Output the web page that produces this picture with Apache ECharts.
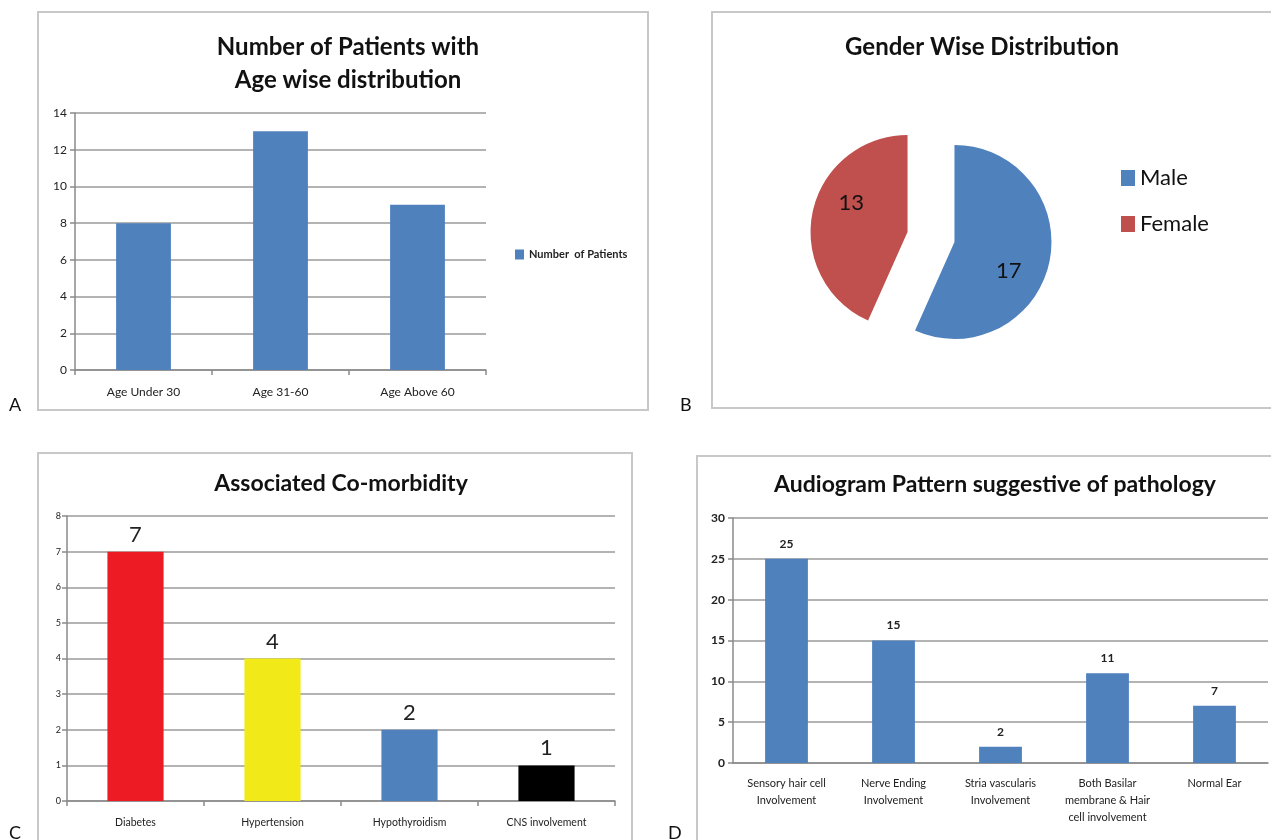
<!DOCTYPE html>
<html><head><meta charset="utf-8">
<script src="https://cdn.jsdelivr.net/npm/echarts@6/dist/echarts.min.js"></script>
<style>html,body{margin:0;padding:0;background:#fff}#c{width:1271px;height:840px}</style>
</head><body><div id="c"></div>
<script>
// Panel A
var ageCategories = ['Age Under 30', 'Age 31-60', 'Age Above 60'];
var ageValues = [8, 13, 9];
var ageTicks = [0, 14, 2];
// Panel B
var genderNames = ['Male', 'Female'];
var genderValues = [17, 13];
// Panel C
var comorbCategories = ['Diabetes', 'Hypertension', 'Hypothyroidism', 'CNS involvement'];
var comorbValues = [7, 4, 2, 1];
var comorbColors = ['#ED1C24', '#F2EA18', '#4F81BD', '#000000'];
var comorbTicks = [0, 8, 1];
// Panel D
var audioCategories = ['Sensory hair cell\nInvolvement', 'Nerve Ending\nInvolvement', 'Stria vascularis\nInvolvement', 'Both Basilar\nmembrane & Hair\ncell involvement', 'Normal Ear'];
var audioValues = [25, 15, 2, 11, 7];
var audioTicks = [0, 30, 5];

var F = 'Lato, "Open Sans", sans-serif';
var gridLine = {show: true, lineStyle: {color: '#9a9a9a', width: 1.5}};
var axisLine = {show: true, lineStyle: {color: '#8a8a8a', width: 1.5}};
var tick = {show: true, length: 5, lineStyle: {color: '#8a8a8a', width: 1.5}};

var chart = echarts.init(document.getElementById('c'), null, {renderer: 'canvas'});
function box(x, y, w, h) {
  return {type: 'rect', shape: {x: x, y: y, width: w, height: h}, style: {fill: 'none', stroke: '#c8c8c8', lineWidth: 2}, silent: true};
}
function letter(t, x, y) {
  return {type: 'text', x: x, y: y, style: {text: t, font: '18px ' + F, fill: '#111', textVerticalAlign: 'bottom'}, silent: true};
}
var pieLabelFmt = ['\n{c}', '{c}\n'];
var pieLabelPad = [[0, 0, 0, 8], [0, 12, 0, 0]];
chart.setOption({
  animation: false,
  textStyle: {fontFamily: F},
  graphic: [
    box(38, 12, 610, 398), box(712, 12, 570, 396), box(38, 453, 594, 400), box(697, 456, 590, 400),
    letter('A', 9, 414), letter('B', 680, 414), letter('C', 9, 842), letter('D', 668, 842)
  ],
  title: [
    {text: 'Number of Patients with\nAge wise distribution', left: 343, top: 26, textAlign: 'center',
      textStyle: {fontSize: 24, fontWeight: 'bold', color: '#111', lineHeight: 33, fontFamily: F}},
    {text: 'Gender Wise Distribution', left: 977, top: 30, textAlign: 'center',
      textStyle: {fontSize: 24, fontWeight: 'bold', color: '#111', fontFamily: F}},
    {text: 'Associated Co-morbidity', left: 336, top: 467, textAlign: 'center',
      textStyle: {fontSize: 23, fontWeight: 'bold', color: '#111', fontFamily: F}},
    {text: 'Audiogram Pattern suggestive of pathology', left: 990, top: 468, textAlign: 'center',
      textStyle: {fontSize: 23, fontWeight: 'bold', color: '#111', fontFamily: F}}
  ],
  legend: [
    {data: ['Number  of Patients'], left: 510, top: 244, icon: 'rect', itemWidth: 9, itemHeight: 10, itemGap: 4,
      textStyle: {fontSize: 11, fontWeight: 'bold', color: '#222', fontFamily: F}, selectedMode: false},
    {data: genderNames, orient: 'vertical', left: 1116, top: 162, icon: 'rect', itemWidth: 14, itemHeight: 16, itemGap: 24,
      textStyle: {fontSize: 22, color: '#111', fontFamily: F}, selectedMode: false}
  ],
  grid: [
    {left: 75, top: 113, width: 411, height: 257},
    {left: 67, top: 516, width: 548, height: 285},
    {left: 733, top: 518, width: 535, height: 245}
  ],
  xAxis: [
    {type: 'category', gridIndex: 0, data: ageCategories, axisLine: axisLine, axisTick: tick,
      axisLabel: {fontSize: 12, color: '#222', margin: 16, fontFamily: F}},
    {type: 'category', gridIndex: 1, data: comorbCategories, axisLine: axisLine, axisTick: tick,
      axisLabel: {fontSize: 10.5, color: '#222', margin: 16, fontFamily: F}},
    {type: 'category', gridIndex: 2, data: audioCategories, axisLine: axisLine, axisTick: {show: false},
      axisLabel: {fontSize: 11, color: '#222', margin: 12, lineHeight: 17, fontFamily: F, interval: 0}}
  ],
  yAxis: [
    {type: 'value', gridIndex: 0, min: ageTicks[0], max: ageTicks[1], interval: ageTicks[2], axisLine: axisLine, axisTick: tick,
      splitLine: gridLine, axisLabel: {fontSize: 12, color: '#222', margin: 8, fontFamily: F}},
    {type: 'value', gridIndex: 1, min: comorbTicks[0], max: comorbTicks[1], interval: comorbTicks[2], axisLine: axisLine, axisTick: tick,
      splitLine: gridLine, axisLabel: {fontSize: 9, color: '#222', margin: 6, fontFamily: F}},
    {type: 'value', gridIndex: 2, min: audioTicks[0], max: audioTicks[1], interval: audioTicks[2], axisLine: axisLine, axisTick: tick,
      splitLine: gridLine, axisLabel: {fontSize: 12, fontWeight: 'bold', color: '#222', margin: 8, fontFamily: F}}
  ],
  series: [
    {type: 'bar', name: 'Number  of Patients', xAxisIndex: 0, yAxisIndex: 0, data: ageValues, barWidth: '40%',
      itemStyle: {color: '#4F81BD'}},
    {type: 'pie', name: 'Gender', center: [931, 237], radius: 97, startAngle: 90, clockwise: true,
      selectedMode: 'multiple', selectedOffset: 24,
      data: genderNames.map(function (n, i) {
        return {name: n, value: genderValues[i], selected: true,
          label: {formatter: pieLabelFmt[i], padding: pieLabelPad[i]}};
      }),
      color: ['#4F81BD', '#C0504D'],
      label: {show: true, position: 'inner', fontSize: 22, lineHeight: 36, color: '#111', fontFamily: F},
      labelLine: {show: false}, emphasis: {disabled: true}},
    {type: 'bar', name: 'Co-morbidity', xAxisIndex: 1, yAxisIndex: 1, barWidth: '41%',
      data: comorbValues.map(function (v, i) { return {value: v, itemStyle: {color: comorbColors[i]}}; }),
      label: {show: true, position: 'top', distance: 6, fontSize: 22, color: '#222', fontFamily: F}},
    {type: 'bar', name: 'Audiogram', xAxisIndex: 2, yAxisIndex: 2, barWidth: '40%', data: audioValues,
      itemStyle: {color: '#4F81BD'},
      label: {show: true, position: 'top', distance: 9, fontSize: 12, fontWeight: 'bold', color: '#222', fontFamily: F}}
  ]
});
</script></body></html>
